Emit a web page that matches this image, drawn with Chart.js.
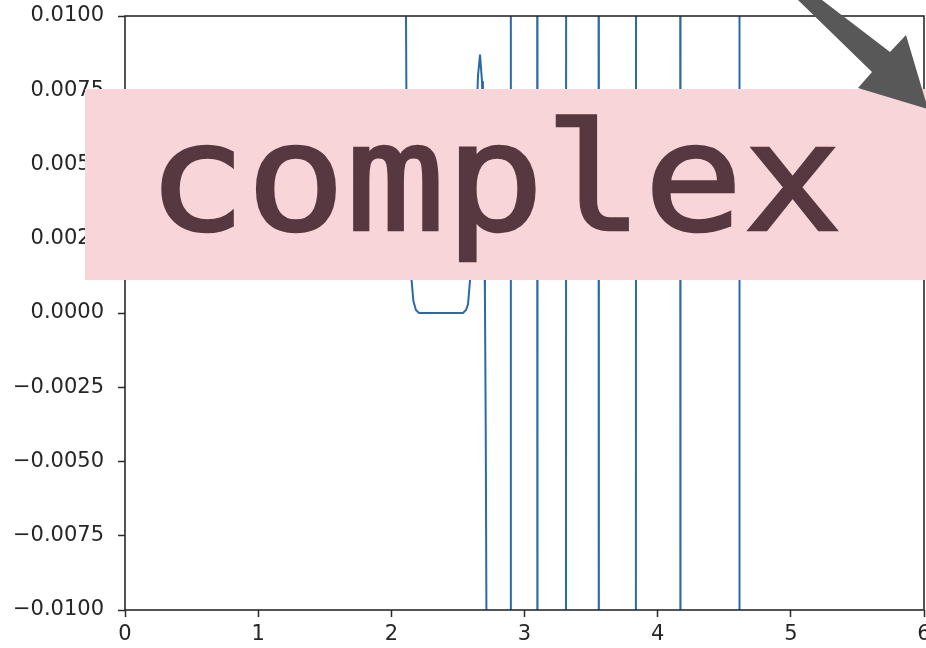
<!DOCTYPE html>
<html>
<head>
<meta charset="utf-8">
<script src="https://cdn.jsdelivr.net/npm/chart.js@4/dist/chart.umd.min.js"></script>
<style>
  html, body { margin: 0; padding: 0; background: #ffffff; overflow: hidden; width: 926px; height: 648px; }
  #wrap { position: relative; width: 926px; height: 648px; overflow: hidden; }
  #c { position: absolute; left: 0; top: 0; }
  #box { position: absolute; left: 85px; top: 89px; width: 860px; height: 191px; background: #f7d5d9; }
  #label { position: absolute; left: 147px; top: 103px; font-family: "DejaVu Sans Mono", monospace; font-weight: normal; font-size: 150px; line-height: 150px; color: #573840; -webkit-text-stroke: 2.5px #573840; transform: scaleX(1.1); transform-origin: 0 0; white-space: nowrap; }
  #arrow { position: absolute; left: 0; top: 0; }
</style>
</head>
<body>
<div id="wrap">
  <canvas id="c" width="940" height="648"></canvas>
  <div id="box"></div>
  <div id="label">complex</div>
  <svg id="arrow" width="926" height="648" viewBox="0 0 926 648">
    <polygon points="798,0 822,0 890,52 906,35 928,109 858,88 872,72" fill="#585858"/>
  </svg>
</div>
<script>
// ---- data ----
const xValues = [0, 2.105, 2.1101, 2.1131, 2.1244, 2.1394, 2.1522, 2.1657, 2.1845, 2.2076, 2.35, 2.538,
  2.561, 2.576, 2.591, 2.606, 2.621, 2.636, 2.651, 2.666, 2.681, 2.688, 2.696, 2.703, 2.709, 2.714, 2.717,
  2.80, 2.8945, 2.8975, 3.00, 3.0945, 3.0975, 3.20, 3.3105, 3.3135, 3.43,
  3.5555, 3.5585, 3.70, 3.8355, 3.8385, 4.00, 4.1685, 4.1715, 4.40,
  4.6115, 4.6145, 5.3, 6.0];
const yValues = [0.05, 0.03, 0.0100, 0.0075, 0.0040, 0.0020, 0.0011, 0.0004, 0.0001, 0.0000, 0.0000, 0.0000,
  0.0001, 0.0003, 0.0011, 0.0025, 0.0045, 0.0062, 0.0080, 0.0087, 0.0078, 0.0060, 0.0035, 0.0005, -0.0040, -0.0100, -0.0300,
  -0.05, -0.03, 0.03, 0.05, 0.03, -0.03, -0.05, -0.03, 0.03, 0.05,
  0.03, -0.03, -0.05, -0.03, 0.03, 0.05, 0.03, -0.03, -0.05,
  -0.03, 0.03, 0.05, 0.05];
const xTickValues = [0, 1, 2, 3, 4, 5, 6];
const yTickValues = [-0.01, -0.0075, -0.005, -0.0025, 0, 0.0025, 0.005, 0.0075, 0.01];

const points = xValues.map((x, i) => ({ x: x, y: yValues[i] }));

function fmtY(v) {
  if (Math.abs(v) < 1e-12) v = 0;
  const s = Math.abs(v).toFixed(4);
  return (v < 0 ? '\u2212' : '') + s;
}

const spinePlugin = {
  id: 'spines',
  afterDatasetsDraw(chart) {
    const a = chart.chartArea;
    const ctx = chart.ctx;
    ctx.save();
    ctx.strokeStyle = '#2a2a2a';
    ctx.lineWidth = 1.6;
    ctx.strokeRect(a.left, a.top, a.right - a.left, a.bottom - a.top);
    ctx.restore();
  }
};

const tickFont = { family: 'DejaVu Sans', size: 21 };

new Chart(document.getElementById('c'), {
  type: 'scatter',
  data: {
    datasets: [{
      data: points,
      showLine: true,
      borderColor: '#2b6aa6',
      backgroundColor: '#2b6aa6',
      borderWidth: 2,
      pointRadius: 0,
      tension: 0
    }]
  },
  options: {
    responsive: false,
    animation: false,
    devicePixelRatio: 1,
    layout: { padding: { top: 16, right: 16, left: 0, bottom: 0 } },
    plugins: { legend: { display: false }, tooltip: { enabled: false } },
    scales: {
      x: {
        type: 'linear',
        min: 0, max: 6,
        afterBuildTicks: (s) => { s.ticks = xTickValues.map(v => ({ value: v })); },
        afterFit: (s) => { s.height = 38; s.paddingLeft = 0; s.paddingRight = 0; },
        grid: { display: true, drawOnChartArea: false, drawTicks: true, tickLength: 7, tickColor: '#2a2a2a', tickWidth: 1.5 },
        border: { display: false },
        ticks: { font: tickFont, color: '#262626', padding: 5, maxRotation: 0, autoSkip: false,
                 callback: (v) => String(v) }
      },
      y: {
        type: 'linear',
        min: -0.01, max: 0.01,
        afterBuildTicks: (s) => { s.ticks = yTickValues.map(v => ({ value: v })); },
        afterFit: (s) => { s.width = 125; s.paddingTop = 0; s.paddingBottom = 0; },
        grid: { display: true, drawOnChartArea: false, drawTicks: true, tickLength: 7, tickColor: '#2a2a2a', tickWidth: 1.5 },
        border: { display: false },
        ticks: { font: tickFont, color: '#262626', padding: 14, autoSkip: false,
                 callback: (v) => fmtY(v) }
      }
    }
  },
  plugins: [spinePlugin]
});
</script>
</body>
</html>
